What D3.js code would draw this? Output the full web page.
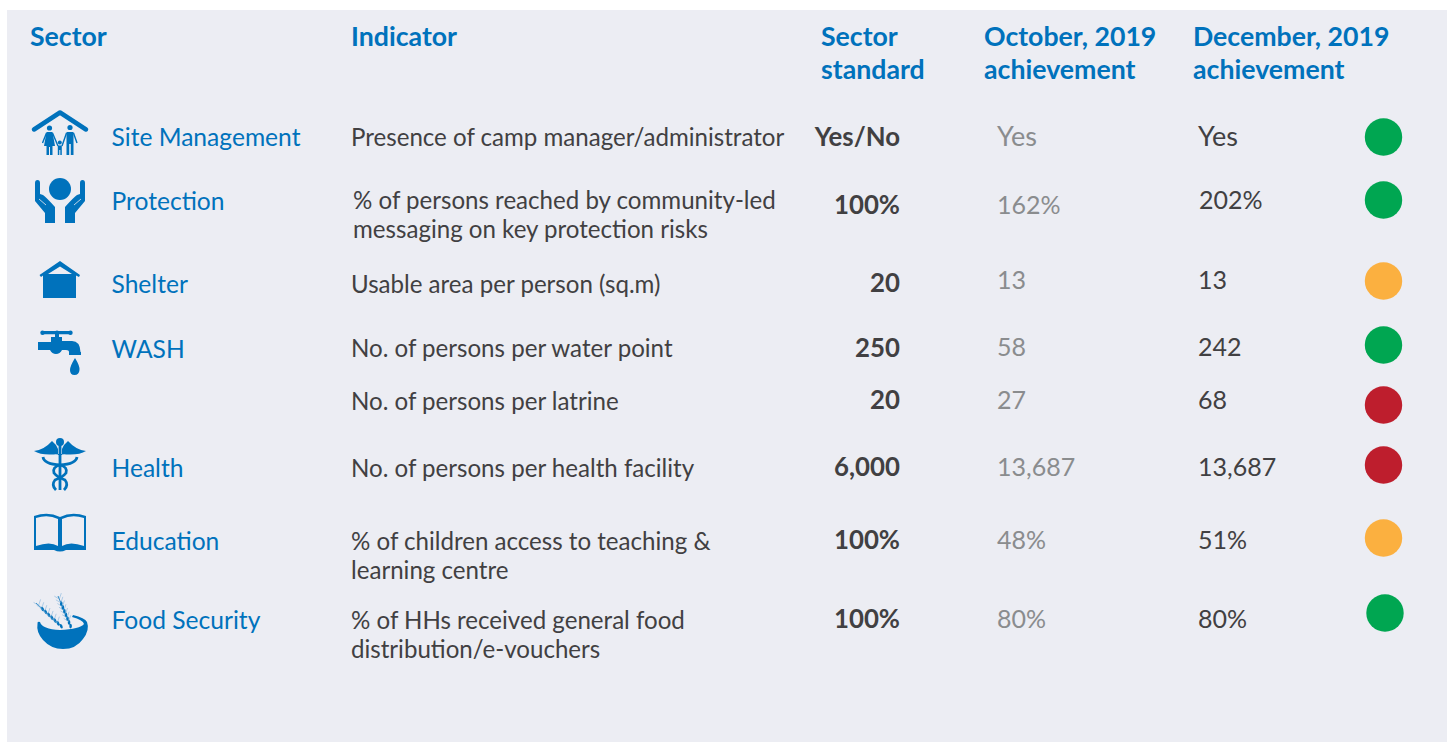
<!DOCTYPE html>
<html>
<head>
<meta charset="utf-8">
<script src="https://cdnjs.cloudflare.com/ajax/libs/d3/7.8.5/d3.min.js"></script>
<style>
  html, body { margin: 0; padding: 0; background: #fff; }
  svg { display: block; }
  text { font-family: Lato, "Open Sans", sans-serif; }
</style>
</head>
<body>
<svg></svg>
<script>
const rowIds = ["site", "protection", "shelter", "wash", "latrine", "health", "education", "food"];
const sectors = ["Site Management", "Protection", "Shelter", "WASH", "", "Health", "Education", "Food Security"];
const indicators = [
  ["Presence of camp manager/administrator"],
  ["% of persons reached by community-led", "messaging on key protection risks"],
  ["Usable area per person (sq.m)"],
  ["No. of persons per water point"],
  ["No. of persons per latrine"],
  ["No. of persons per health facility"],
  ["% of children access to teaching &", "learning centre"],
  ["% of HHs received general food", "distribution/e-vouchers"]
];
const standards = ["Yes/No", "100%", "20", "250", "20", "6,000", "100%", "100%"];
const october = ["Yes", "162%", "13", "58", "27", "13,687", "48%", "80%"];
const december = ["Yes", "202%", "13", "242", "68", "13,687", "51%", "80%"];
const statuses = ["good", "good", "mid", "good", "bad", "bad", "mid", "good"];

let width = 1447;
let height = 742;

const svg = d3.select("svg").attr("width", width).attr("height", height);

svg.append("rect").attr("x", 7).attr("y", 10).attr("width", width - 7).attr("height", height - 10).attr("fill", "#ecedf3");

// the source table is hand placed, so the rows are not evenly spaced
const rowY = d3.scaleOrdinal().domain(rowIds).range([137, 201, 284, 348, 401, 468, 541, 620]);
const statusColor = d3.scaleOrdinal().domain(["good", "mid", "bad"]).range(["#00a651", "#fbb040", "#be1e2d"]);
const nudgeStd = { protection: 4, shelter: -1, latrine: -1, health: -1, education: -1, food: -1 };
const nudgeOct = { protection: 4, shelter: -4, wash: -1, latrine: -1, health: -1, education: -1, food: -1 };
const nudgeDec = { protection: -1, shelter: -4, wash: -1, latrine: -1, health: -1, education: -1, food: -1 };
const nudgeDot = { protection: -1, shelter: -3, wash: -3, latrine: 4, health: -3, education: -3, food: -7 };

const blue = "#0072bc";
const dark = "#414042";
const grey = "#8a8c8e";

// headers
const headers = [
  { x: 30, lines: ["Sector"] },
  { x: 351, lines: ["Indicator"] },
  { x: 821, lines: ["Sector", "standard"] },
  { x: 984, lines: ["October, 2019", "achievement"] },
  { x: 1193, lines: ["December, 2019", "achievement"] }
];
headers.forEach(h => {
  svg.append("g").selectAll("text").data(h.lines).enter().append("text")
    .attr("x", h.x).attr("y", (d, i) => 46 + i * 33)
    .attr("font-size", 26.7).attr("font-weight", 700).attr("fill", blue)
    .text(d => d);
});

const rows = svg.selectAll("g.row").data(rowIds).enter().append("g").attr("class", "row");

rows.append("text").attr("x", 111.5).attr("y", d => rowY(d) + 9 + (d === "wash" ? 1 : 0))
  .attr("font-size", 24.6).attr("fill", blue)
  .text((d, i) => sectors[i]);

rows.each(function(d, i) {
  const lineX = d === "protection" ? 353 : 351;
  d3.select(this).selectAll("text.ind").data(indicators[i]).enter().append("text")
    .attr("class", "ind").attr("x", lineX)
    .attr("y", (l, j) => rowY(d) + 9 + (d === "protection" ? -1 : 0) + j * 28.5)
    .attr("font-size", 24.1).attr("fill", dark).text(l => l);
});

rows.append("text").attr("x", 900).attr("y", d => rowY(d) + 9 + (nudgeStd[d] || 0))
  .attr("text-anchor", "end").attr("font-size", 25.8).attr("font-weight", 700).attr("fill", dark)
  .text((d, i) => standards[i]);

const numSize = v => v === "Yes" ? 27 : 25;

rows.append("text").attr("x", 997).attr("y", d => rowY(d) + 9 + (nudgeOct[d] || 0))
  .attr("font-size", (d, i) => numSize(october[i])).attr("fill", grey)
  .text((d, i) => october[i]);

rows.append("text").attr("x", d => d === "protection" ? 1199 : 1198).attr("y", d => rowY(d) + 9 + (nudgeDec[d] || 0))
  .attr("font-size", (d, i) => numSize(december[i])).attr("fill", dark)
  .text((d, i) => december[i]);

rows.append("circle").attr("cx", d => d === "food" ? 1385 : 1383.5).attr("cy", d => rowY(d) + (nudgeDot[d] || 0))
  .attr("r", 18.7).attr("fill", (d, i) => statusColor(statuses[i]));

// icons, drawn in page pixels
const icons = svg.append("g").attr("fill", blue);

// site management
const site = icons.append("g");
site.append("path").attr("d", "M34 129.5L60 112.5L86 129.5").attr("fill", "none").attr("stroke", blue)
  .attr("stroke-width", 4.5).attr("stroke-linecap", "round").attr("stroke-linejoin", "round");
site.append("circle").attr("cx", 49.5).attr("cy", 128).attr("r", 2.6);
site.append("path").attr("d", "M46.5 132H52.5L55 146H52.5V155H50V147H49V155H46.5V146H44Z");
site.append("circle").attr("cx", 70).attr("cy", 127.5).attr("r", 2.6);
site.append("path").attr("d", "M66.5 132H73.5V155H70.8V144H69.2V155H66.5Z");
site.append("circle").attr("cx", 59.8).attr("cy", 142.5).attr("r", 2);
site.append("path").attr("d", "M57.8 145.5H61.8V155H60.3V150H59.3V155H57.8Z");
site.append("path").attr("d", "M46.5 133L42.5 143M52.5 133L58 146M66.5 133L62 146M73.5 133L77 143")
  .attr("stroke", blue).attr("stroke-width", 1.4).attr("fill", "none");

// protection
const prot = icons.append("g");
prot.append("circle").attr("cx", 60).attr("cy", 189).attr("r", 11);
prot.append("path").attr("d", "M35 183Q35 180 37.5 180Q40 180 40 183V194L43 195Q46 197 55 207V223H45V213L35 201Z");
prot.append("path").attr("d", "M85 183Q85 180 82.5 180Q80 180 80 183V194L77 195Q74 197 65 207V223H75V213L85 201Z");
prot.append("path").attr("d", "M39 199L46 205M81 199L74 205").attr("stroke", "#ecedf3").attr("stroke-width", 0.8).attr("fill", "none");

// shelter
icons.append("path").attr("d", "M60 261L80 275L79 277L76 275.5V298H43V275.5L41 277L39.5 275ZM60 266.5L48 274H72Z");

// wash
const wash = icons.append("g");
wash.append("path").attr("d", "M43 332.7H70").attr("stroke", blue).attr("stroke-width", 3.2).attr("stroke-linecap", "round").attr("fill", "none");
wash.append("circle").attr("cx", 42.5).attr("cy", 332.7).attr("r", 2.2);
wash.append("circle").attr("cx", 57).attr("cy", 332.7).attr("r", 2.2);
wash.append("circle").attr("cx", 70.5).attr("cy", 332.7).attr("r", 2.2);
wash.append("path").attr("d", "M55 333H59V337H62V341H72Q80 341 80.5 352H81V355H69V352Q69 350 66 350H62Q60 354 56 354Q52 354 50 350H38V342H51V337H55Z");
wash.append("path").attr("d", "M75 358Q80 366 79.5 370Q79 375 74.5 375Q70 375 70 370Q70 366 75 358Z");

// health
const health = icons.append("g");
health.append("circle").attr("cx", 60).attr("cy", 442).attr("r", 4);
health.append("rect").attr("x", 58.6).attr("y", 445).attr("width", 2.8).attr("height", 45);
health.append("path").attr("d", "M34 451Q44 450 52 441Q56 444 58 449V455H62V449Q64 444 68 441Q76 450 86 451Q78 456 62 454H58Q42 456 34 451Z");
health.append("path").attr("d", "M43 457Q44 464 60 465Q68 467 66 473Q63 477 55 480Q51 485 56 490M77 457Q76 464 60 465Q52 467 54 473Q57 477 65 480Q69 485 64 490")
  .attr("fill", "none").attr("stroke", blue).attr("stroke-width", 2.8);

// education
icons.append("path").attr("d", "M34 516Q48 511 60 517Q72 511 86 516V550H66Q60 553 54 550H34ZM36 518V546Q50 541 58 546V519Q48 514 36 518ZM84 518Q72 514 62 519V546Q70 541 84 546Z");

// food security
const food = icons.append("g");
food.append("path").attr("d", "M37.5 624Q36 632 43 640Q51 649 63 649Q76 649 83 639Q90 630 87 622Q85 618 73 615L72 617Q83 620 84 624Q80 629 60 630Q42 629 40 622Q37 621 37.5 624Z");
[[36, 603, 62, 627], [58, 596, 71, 627]].forEach(s => {
  const ear = food.append("g");
  const ang = Math.atan2(s[3] - s[1], s[2] - s[0]) * 180 / Math.PI;
  ear.append("path").attr("d", `M${s[0]} ${s[1]}L${s[2]} ${s[3]}`).attr("stroke", blue).attr("stroke-width", 0.8).attr("fill", "none");
  ear.selectAll("ellipse").data(d3.range(0.25, 1, 0.12)).enter().append("ellipse")
    .attr("rx", 2.4).attr("ry", 1.3)
    .attr("transform", t => `translate(${s[0] + (s[2] - s[0]) * t},${s[1] + (s[3] - s[1]) * t}) rotate(${ang + 25})`);
  ear.selectAll("path.awn").data(d3.range(0.1, 0.9, 0.12)).enter().append("path").attr("class", "awn")
    .attr("d", t => `M${s[0] + (s[2] - s[0]) * t} ${s[1] + (s[3] - s[1]) * t}l-5 -3M${s[0] + (s[2] - s[0]) * t} ${s[1] + (s[3] - s[1]) * t}l2 -6`)
    .attr("stroke", "#6fa8d6").attr("stroke-width", 0.5).attr("fill", "none");
});
</script>
</body>
</html>
